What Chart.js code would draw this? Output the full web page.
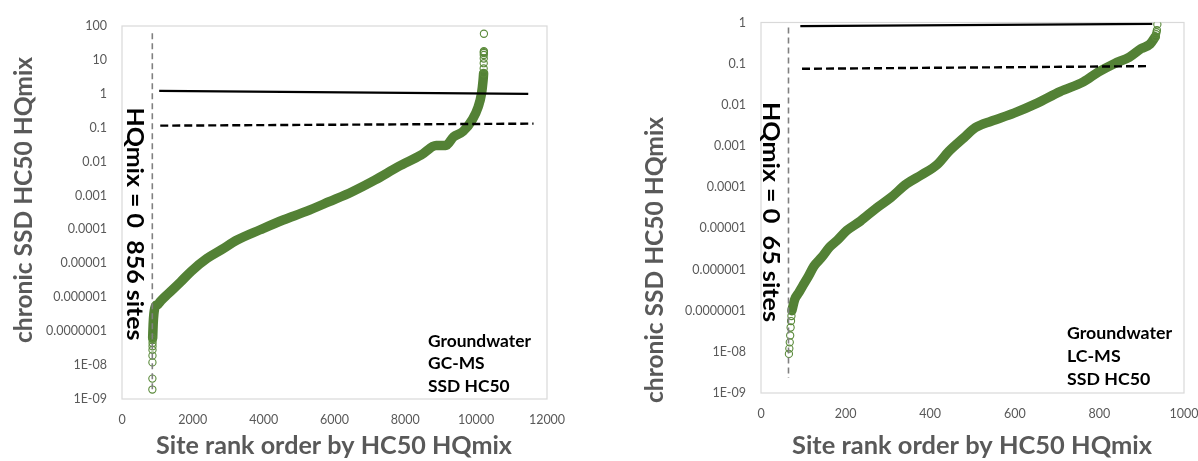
<!DOCTYPE html>
<html><head><meta charset="utf-8">
<script src="https://cdn.jsdelivr.net/npm/chart.js@4.4.1/dist/chart.umd.min.js"></script>
<style>
html,body{margin:0;padding:0;background:#fff;}
#wrap{position:relative;width:1198px;height:461px;overflow:hidden;background:#fff;}
#c1{position:absolute;left:0;top:0;}
#c2{position:absolute;left:600px;top:0;}
</style></head><body>
<div id="wrap"><canvas id="c1" width="600" height="461"></canvas><canvas id="c2" width="620" height="461"></canvas></div>
<script>
// ---------- Data: left panel (Groundwater GC-MS) ----------
const gcLowTailRank = [857, 858, 859, 860, 861, 862, 863, 864, 865];
const gcLowTailHQ   = [1.9e-9, 4.0e-9, 1.2e-8, 1.9e-8, 2.8e-8, 3.6e-8, 4.5e-8, 5.5e-8, 6.3e-8];
const gcRank = [866, 880, 900, 950, 1000, 1100, 1300, 1650, 1950, 2400, 2800, 3250, 3900, 4550, 5200, 5850, 6500, 7150, 7800, 8450, 8870, 9140, 9360, 9630, 9900, 10060, 10150, 10195, 10210];
const gcHQ   = [6.3e-8, 1.6e-7, 3.2e-7, 5.6e-7, 6.0e-7, 7.9e-7, 1.26e-6, 2.8e-6, 5.8e-6, 1.4e-5, 2.5e-5, 4.9e-5, 9.8e-5, 1.9e-4, 3.4e-4, 6.6e-4, 1.3e-3, 2.9e-3, 7.1e-3, 0.0158, 0.030, 0.030, 0.054, 0.078, 0.18, 0.42, 1.0, 2.5, 4.0];
const gcHighTailRank = [10211, 10212, 10213, 10214, 10215, 10216, 10217, 10218, 10219];
const gcHighTailHQ   = [4.0, 5.6, 8, 11, 14, 16, 17, 18, 59];
const gcLine1Rank  = [1050, 11470];
const gcLine1HQ    = [1.22, 0.99];
const gcLine01Rank = [1080, 11620];
const gcLine01HQ   = [0.115, 0.132];
const gcZeroRank   = [856, 856];
const gcZeroHQ     = [61, 1.6e-9];

// ---------- Data: right panel (Groundwater LC-MS) ----------
const lcLowTailRank = [66, 67, 68, 69, 70, 71, 72];
const lcLowTailHQ   = [8.9e-9, 1.2e-8, 1.7e-8, 2.5e-8, 3.9e-8, 5.6e-8, 7.4e-8];
const lcRank = [73, 80, 89, 98, 112, 125, 144, 162, 180, 203, 235, 271, 307, 344, 380, 416, 444, 480, 507, 544, 598, 653, 707, 762, 798, 835, 871, 898, 920, 932];
const lcHQ   = [1.0e-7, 1.9e-7, 2.7e-7, 3.9e-7, 6.8e-7, 1.2e-6, 2.0e-6, 3.5e-6, 5.1e-6, 8.9e-6, 1.5e-5, 3.0e-5, 5.6e-5, 1.2e-4, 2.0e-4, 3.5e-4, 7.4e-4, 1.6e-3, 2.8e-3, 4.0e-3, 6.3e-3, 0.011, 0.021, 0.036, 0.063, 0.10, 0.145, 0.23, 0.30, 0.45];
const lcHighTailRank = [933, 934, 935, 936, 937];
const lcHighTailHQ   = [0.45, 0.52, 0.58, 0.65, 0.9];
const lcLine1Rank  = [93, 925];
const lcLine1HQ    = [0.82, 0.93];
const lcLine01Rank = [97, 912];
const lcLine01HQ   = [0.075, 0.087];
const lcZeroRank   = [65, 65];
const lcZeroHQ     = [0.76, 2.3e-9];

// ---------- Axis ticks ----------
const gcYTicks = [1e-9, 1e-8, 1e-7, 1e-6, 1e-5, 1e-4, 1e-3, 1e-2, 1e-1, 1, 10, 100];
const gcYTickLabels = ['1E-09', '1E-08', '0.0000001', '0.000001', '0.00001', '0.0001', '0.001', '0.01', '0.1', '1', '10', '100'];
const lcYTicks = [1e-9, 1e-8, 1e-7, 1e-6, 1e-5, 1e-4, 1e-3, 1e-2, 1e-1, 1];
const lcYTickLabels = ['1E-09', '1E-08', '0.0000001', '0.000001', '0.00001', '0.0001', '0.001', '0.01', '0.1', '1'];
const gcXTicks = [0, 2000, 4000, 6000, 8000, 10000, 12000];
const lcXTicks = [0, 200, 400, 600, 800, 1000];

// ---------- Text ----------
const xTitle = 'Site rank order by HC50 HQmix';
const yTitle = 'chronic SSD HC50 HQmix';
const gcZeroNote = 'HQmix = 0  856 sites';
const lcZeroNote = 'HQmix = 0  65 sites';
const gcBlock = ['Groundwater', 'GC-MS', 'SSD HC50'];
const lcBlock = ['Groundwater', 'LC-MS', 'SSD HC50'];

function zip(xs, ys) { return xs.map((x, i) => ({ x: x, y: ys[i] })); }

const GREEN = '#538135';
const GREEN_PT = '#5a8a3a';
const GRAY_TXT = '#595959';

function drawText(ctx, t, sxOverride) {
  ctx.save();
  ctx.translate(t.x, t.y);
  if (t.rot) ctx.rotate(t.rot);
  ctx.font = t.font;
  ctx.fillStyle = t.color;
  ctx.textAlign = t.align || 'center';
  ctx.textBaseline = 'middle';
  let sx = 1;
  if (sxOverride) sx = sxOverride;
  else if (t.width) sx = t.width / ctx.measureText(t.text).width;
  ctx.scale(sx, 1);
  ctx.fillText(t.text, 0, 0);
  ctx.restore();
  return sx;
}

function makePanel(id, p) {
  const ctxEl = document.getElementById(id);
  const area = p.area;
  const textPlugin = {
    id: 'texts',
    beforeDatasetsDraw(chart) {
      const ctx = chart.ctx, ca = chart.chartArea;
      ctx.save();
      ctx.strokeStyle = '#d9d9d9';
      ctx.lineWidth = 1.2;
      ctx.strokeRect(ca.left, ca.top, ca.right - ca.left, ca.bottom - ca.top);
      ctx.restore();
    },
    afterDraw(chart) {
      const ctx = chart.ctx;
      p.texts.forEach(t => drawText(ctx, t));
      let sx = null;
      p.block.lines.forEach((s, i) => {
        const t = { text: s, x: p.block.x, y: p.block.ys[i], font: 'bold 17px Lato', color: '#000', align: 'left', width: i === 0 ? p.block.width : null };
        const r = drawText(ctx, t, sx);
        if (i === 0) sx = r;
      });
    }
  };
  return new Chart(ctxEl, {
    type: 'scatter',
    data: {
      datasets: [
        { data: zip(p.zeroRank, p.zeroHQ), showLine: true, borderColor: '#808080', borderWidth: 1.6, borderDash: [6, 4], pointRadius: 0, order: 0 },
        { data: zip(p.line1Rank, p.line1HQ), showLine: true, borderColor: '#000', borderWidth: 2.2, pointRadius: 0, order: 1 },
        { data: zip(p.line01Rank, p.line01HQ), showLine: true, borderColor: '#000', borderWidth: 2.4, borderDash: [8, 4], pointRadius: 0, order: 2 },
        { data: zip(p.lowRank, p.lowHQ).concat(zip(p.highRank, p.highHQ)), showLine: false, pointRadius: 3.6, pointBorderWidth: 1.1, pointBorderColor: GREEN_PT, pointBackgroundColor: 'rgba(0,0,0,0)', order: 3 },
        { data: zip(p.rank, p.hq), showLine: true, borderColor: GREEN, borderWidth: 9.5, borderCapStyle: 'round', borderJoinStyle: 'round', cubicInterpolationMode: 'monotone', pointRadius: 0, order: 4 }
      ]
    },
    options: {
      responsive: false, animation: false, devicePixelRatio: 1,
      events: [],
      layout: { padding: { left: 0, right: p.canvasW - area.right, top: area.top, bottom: 0 } },
      plugins: { legend: { display: false }, tooltip: { enabled: false } },
      scales: {
        x: {
          type: 'linear', min: p.xTicks[0], max: p.xTicks[p.xTicks.length - 1],
          afterBuildTicks(s) { s.ticks = p.xTicks.map(v => ({ value: v })); },
          ticks: { autoSkip: false, maxRotation: 0, padding: 13, color: GRAY_TXT, font: { family: 'Lato', size: 12.5 }, callback: v => String(v) },
          grid: { display: false, drawTicks: false },
          border: { display: false },
          afterFit(s) { s.height = 461 - area.bottom; }
        },
        y: {
          type: 'logarithmic', min: p.yTicks[0], max: p.yTicks[p.yTicks.length - 1],
          afterBuildTicks(s) { s.ticks = p.yTicks.map(v => ({ value: v })); },
          ticks: {
            autoSkip: false, padding: 15, color: GRAY_TXT, font: { family: 'Lato', size: 12.5 },
            callback: v => {
              const i = p.yTicks.findIndex(t => Math.abs(Math.log10(t) - Math.log10(v)) < 1e-6);
              return i >= 0 ? p.yTickLabels[i] : '';
            }
          },
          grid: { display: false, drawTicks: false },
          border: { display: false },
          afterFit(s) { s.width = area.left; }
        }
      }
    },
    plugins: [textPlugin]
  });
}

makePanel('c1', {
  canvasW: 600,
  area: { left: 122, right: 547, top: 26, bottom: 399 },
  lowRank: gcLowTailRank, lowHQ: gcLowTailHQ, rank: gcRank, hq: gcHQ, highRank: gcHighTailRank, highHQ: gcHighTailHQ,
  line1Rank: gcLine1Rank, line1HQ: gcLine1HQ, line01Rank: gcLine01Rank, line01HQ: gcLine01HQ, zeroRank: gcZeroRank, zeroHQ: gcZeroHQ,
  yTicks: gcYTicks, yTickLabels: gcYTickLabels, xTicks: gcXTicks,
  texts: [
    { text: xTitle, x: 334, y: 446, font: 'bold 25px Lato', color: GRAY_TXT, width: 356 },
    { text: yTitle, x: 24, y: 200, rot: -Math.PI / 2, font: 'bold 24px Lato', color: GRAY_TXT, width: 286 },
    { text: gcZeroNote, x: 134, y: 224, rot: Math.PI / 2, font: 'bold 22px Lato', color: '#000', width: 233 }
  ],
  block: { lines: gcBlock, x: 428, ys: [342, 364, 387], width: 103 }
});

makePanel('c2', {
  canvasW: 620,
  area: { left: 161, right: 584, top: 20, bottom: 393 },
  lowRank: lcLowTailRank, lowHQ: lcLowTailHQ, rank: lcRank, hq: lcHQ, highRank: lcHighTailRank, highHQ: lcHighTailHQ,
  line1Rank: lcLine1Rank, line1HQ: lcLine1HQ, line01Rank: lcLine01Rank, line01HQ: lcLine01HQ, zeroRank: lcZeroRank, zeroHQ: lcZeroHQ,
  yTicks: lcYTicks, yTickLabels: lcYTickLabels, xTicks: lcXTicks,
  texts: [
    { text: xTitle, x: 372, y: 446, font: 'bold 25px Lato', color: GRAY_TXT, width: 360 },
    { text: yTitle, x: 55, y: 260, rot: -Math.PI / 2, font: 'bold 24px Lato', color: GRAY_TXT, width: 286 },
    { text: lcZeroNote, x: 170, y: 212, rot: Math.PI / 2, font: 'bold 22px Lato', color: '#000', width: 220 }
  ],
  block: { lines: lcBlock, x: 467, ys: [334, 357, 380], width: 105 }
});
</script>
</body></html>
